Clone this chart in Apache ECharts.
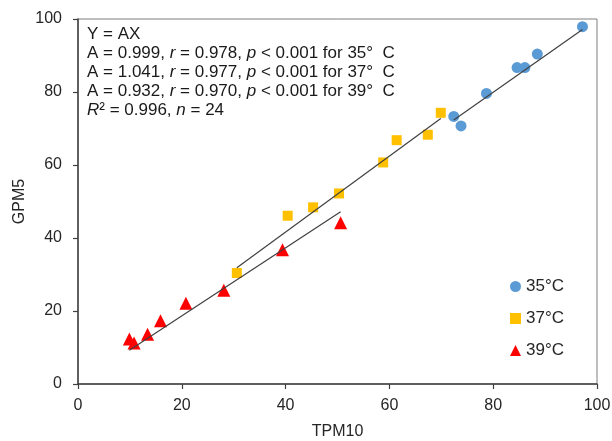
<!DOCTYPE html>
<html>
<head>
<meta charset="utf-8">
<script src="https://cdn.jsdelivr.net/npm/echarts@6/dist/echarts.min.js"></script>
<style>
html,body{margin:0;padding:0;background:#fff;}
#chart{width:612px;height:441px;}
</style>
</head>
<body>
<div id="chart"></div>
<script>
// Data
var seriesNames = ['35°C', '37°C', '39°C'];
var x35 = [72.4, 73.8, 78.7, 84.6, 86.1, 88.5, 97.2];
var y35 = [73.3, 70.7, 79.6, 86.7, 86.7, 90.4, 97.9];
var x37 = [30.6, 40.4, 45.3, 50.3, 58.8, 61.4, 67.4, 69.9];
var y37 = [30.4, 46.1, 48.4, 52.2, 60.7, 66.8, 68.3, 74.3];
var x39 = [9.9, 10.8, 13.4, 15.9, 20.8, 28.1, 39.4, 50.6];
var y39 = [12.3, 11.2, 13.6, 17.3, 22.1, 25.7, 36.8, 44.2];
var slopes = [0.999, 1.041, 0.932];
var xTicks = [0, 20, 40, 60, 80, 100];
var yTicks = [0, 20, 40, 60, 80, 100];

function pairs(xs, ys) { return xs.map(function (v, i) { return [v, ys[i]]; }); }
function fitLine(xs, a) {
  var lo = Math.min.apply(null, xs), hi = Math.max.apply(null, xs);
  return [[lo, a * lo], [hi, a * hi]];
}

var FONT = 'Liberation Sans, Arial, sans-serif';
var colors = ['#5B9BD5', '#FFC000', '#FF0000'];
var xs = [x35, x37, x39], ys = [y35, y37, y39];
var symbols = ['circle', 'rect', 'triangle'];
var sizes = [11, 10, 13];

var series = [];
for (var k = 0; k < 3; k++) {
  series.push({
    name: 'fit' + k, type: 'line', data: fitLine(xs[k], slopes[k]),
    showSymbol: false, symbol: 'none', silent: true, z: 3,
    lineStyle: { color: '#404040', width: 1.2 }
  });
}
for (var k2 = 0; k2 < 3; k2++) {
  series.push({
    name: seriesNames[k2], type: 'scatter', data: pairs(xs[k2], ys[k2]),
    symbol: symbols[k2], symbolSize: sizes[k2], z: 2,
    itemStyle: { color: colors[k2], opacity: 1 }
  });
}

var chart = echarts.init(document.getElementById('chart'), null, { renderer: 'canvas' });
chart.setOption({
  animation: false,
  backgroundColor: '#fff',
  grid: { left: 78, right: 15, top: 19, bottom: 57, containLabel: false, outerBoundsMode: 'none',
          show: true, borderColor: '#7f7f7f', borderWidth: 1 },
  xAxis: {
    type: 'value', min: xTicks[0], max: xTicks[xTicks.length - 1], interval: 20,
    name: 'TPM10', nameLocation: 'middle', nameGap: 40, nameMoveOverlap: false,
    nameTextStyle: { fontFamily: FONT, fontSize: 16, color: '#262626' },
    axisLine: { show: true, lineStyle: { color: '#404040', width: 1.5 } },
    axisTick: { show: true, length: 5, lineStyle: { color: '#404040', width: 1.2 } },
    axisLabel: { fontFamily: FONT, fontSize: 16, color: '#262626', margin: 14, hideOverlap: false },
    splitLine: { show: false }
  },
  yAxis: {
    type: 'value', min: yTicks[0], max: yTicks[yTicks.length - 1], interval: 20,
    name: 'GPM5', nameLocation: 'middle', nameGap: 50, nameRotate: 90, nameMoveOverlap: false,
    nameTextStyle: { fontFamily: FONT, fontSize: 16, color: '#262626' },
    axisLine: { show: true, lineStyle: { color: '#404040', width: 1.5 } },
    axisTick: { show: true, length: 5, lineStyle: { color: '#404040', width: 1.2 } },
    axisLabel: { fontFamily: FONT, fontSize: 16, color: '#262626', margin: 16 },
    splitLine: { show: false }
  },
  legend: {
    data: [
      { name: seriesNames[0], icon: 'circle' },
      { name: seriesNames[1], icon: 'rect' },
      { name: seriesNames[2], icon: 'triangle' }
    ],
    orient: 'vertical', left: 505, top: 273, itemWidth: 11, itemHeight: 11, itemGap: 15,
    textStyle: { fontFamily: FONT, fontSize: 17, color: '#262626' },
    selectedMode: false
  },
  graphic: [{
    type: 'text', left: 87, top: 25, z: 10,
    style: {
      text: [
        'Y = AX',
        'A = 0.999, {i|r} = 0.978, {i|p} < 0.001 for 35°  C',
        'A = 1.041, {i|r} = 0.977, {i|p} < 0.001 for 37°  C',
        'A = 0.932, {i|r} = 0.970, {i|p} < 0.001 for 39°  C',
        '{i|R}² = 0.996, {i|n} = 24'
      ].join('\n'),
      font: '17px ' + FONT,
      fill: '#1a1a1a',
      lineHeight: 19,
      rich: { i: { fontStyle: 'italic', fontFamily: FONT, fontSize: 17, lineHeight: 19 } }
    }
  }],
  series: series
});
</script>
</body>
</html>
